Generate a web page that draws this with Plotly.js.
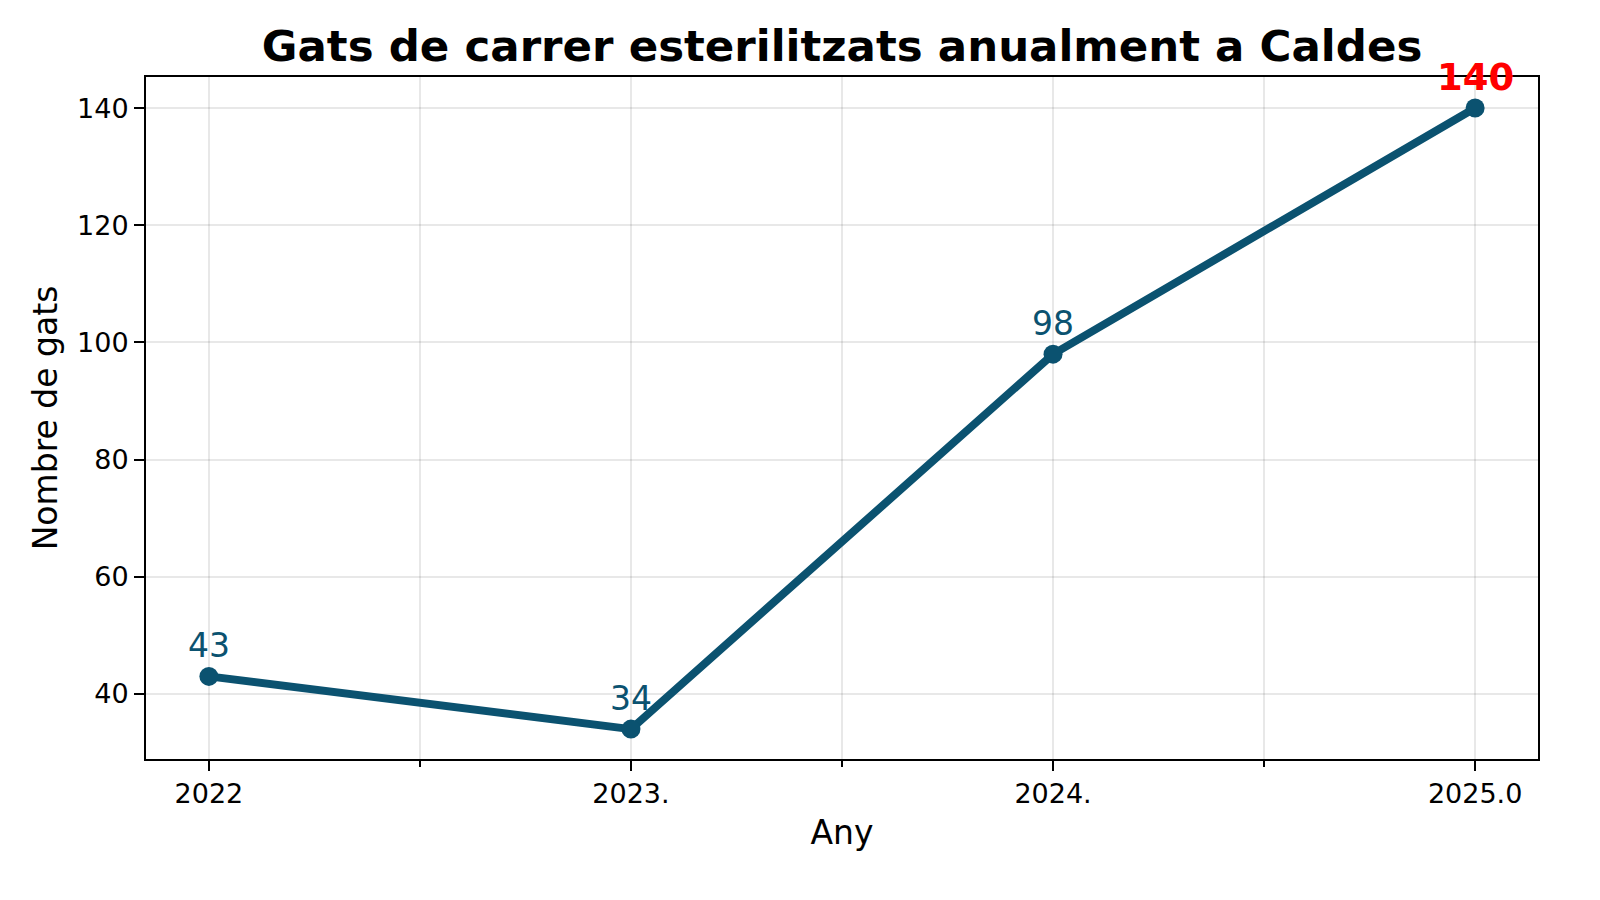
<!DOCTYPE html>
<html>
<head>
<meta charset="utf-8">
<script src="https://cdn.plot.ly/plotly-3.0.1.min.js"></script>
<style>html,body{margin:0;padding:0;background:#fff;}#chart{width:1600px;height:900px;}</style>
</head>
<body>
<div id="chart"></div>
<script>
const years = [2022, 2023, 2024, 2025];
const cats = [43, 34, 98, 140];
const labelColors = ['#0b5270', '#0b5270', '#0b5270', '#ff0000'];
const labelWeights = ['normal', 'normal', 'normal', 'bold'];
const xTickVals = [2022, 2023, 2024, 2025];
const xTickText = ['2022', '2023.', '2024.', '2025.0'];
const xMinorVals = [2022.5, 2023.5, 2024.5];
const yTickVals = [40, 60, 80, 100, 120, 140];

const lineColor = '#0b5270';
const font = 'DejaVu Sans, sans-serif';
const gridColor = 'rgba(0,0,0,0.09)';

const annotations = years.map((x, i) => ({
  x: x, y: cats[i], xref: 'x', yref: 'y',
  text: String(cats[i]), showarrow: false,
  yanchor: 'middle', yshift: 31,
  font: {family: font, size: labelWeights[i] === 'bold' ? 37 : 33, color: labelColors[i], weight: labelWeights[i]}
}));

const trace = {
  x: years, y: cats, type: 'scatter', mode: 'lines+markers',
  line: {color: lineColor, width: 8},
  marker: {color: lineColor, size: 19},
  hoverinfo: 'x+y'
};

const layout = {
  width: 1600, height: 900,
  margin: {l: 146, r: 62, t: 77, b: 141},
  paper_bgcolor: '#fff', plot_bgcolor: '#fff',
  showlegend: false,
  title: {text: 'Gats de carrer esterilitzats anualment a Caldes', x: 0.5263, xanchor: 'center', y: 0.949, yref: 'container', yanchor: 'middle',
          font: {family: font, size: 43.5, color: '#000', weight: 'bold'}},
  xaxis: {
    range: [2021.851, 2025.149],
    tickmode: 'array', tickvals: xTickVals, ticktext: xTickText,
    ticks: 'outside', ticklen: 10, tickwidth: 2, tickcolor: '#000',
    showgrid: true, gridcolor: gridColor, gridwidth: 2,
    zeroline: false, showline: true, linecolor: '#000', linewidth: 2, mirror: true,
    tickfont: {family: font, size: 27, color: '#000'},
    title: {text: 'Any', font: {family: font, size: 33, color: '#000'}, standoff: 12},
    minor: {tickmode: 'array', tickvals: xMinorVals, ticks: 'outside', ticklen: 5.5, tickwidth: 1.6, tickcolor: '#000', showgrid: true, gridcolor: gridColor, gridwidth: 2}
  },
  yaxis: {
    range: [28.9, 145.3],
    tickmode: 'array', tickvals: yTickVals,
    ticks: 'outside', ticklen: 10, tickwidth: 2, tickcolor: '#000',
    showgrid: true, gridcolor: gridColor, gridwidth: 2,
    zeroline: false, showline: true, linecolor: '#000', linewidth: 2, mirror: true,
    tickfont: {family: font, size: 27, color: '#000'},
    title: {text: 'Nombre de gats', font: {family: font, size: 33, color: '#000'}, standoff: 10}
  },
  annotations: annotations
};

Plotly.newPlot('chart', [trace], layout, {displayModeBar: false, staticPlot: true});
</script>
</body>
</html>
